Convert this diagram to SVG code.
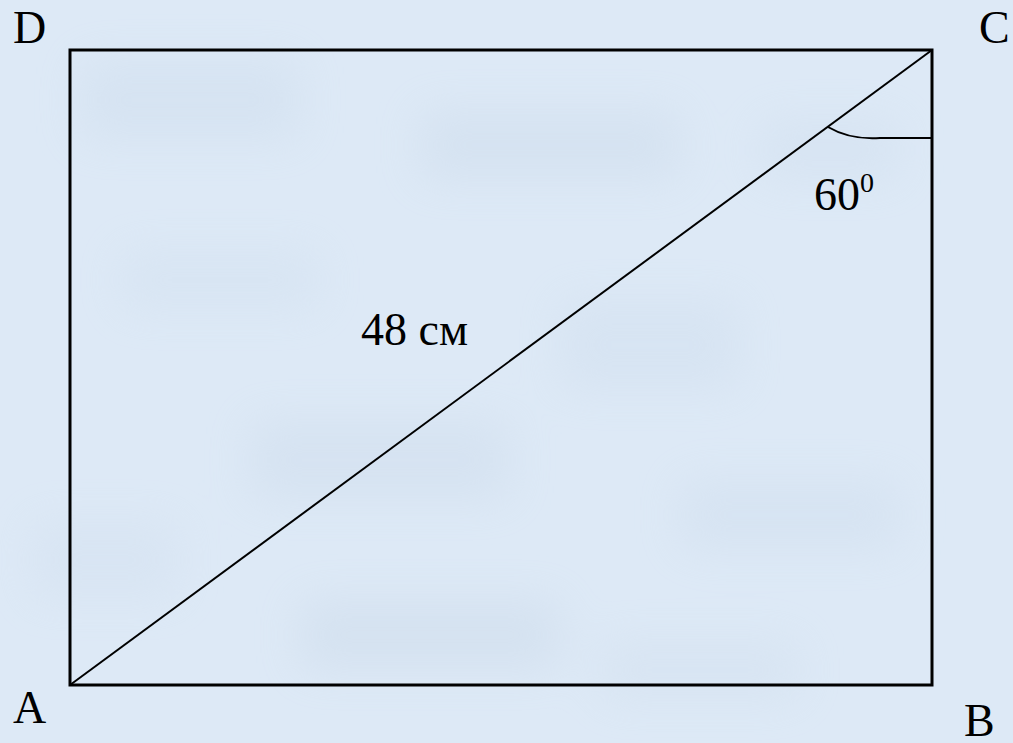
<svg xmlns="http://www.w3.org/2000/svg" width="1013" height="743" viewBox="0 0 1013 743">
<style>
.lbl{font-family:"Liberation Serif","Times New Roman","DejaVu Serif",serif;font-size:46px;fill:#000}
.edge{stroke:#000;fill:none}
</style>
<defs>
<filter id="blur" x="-20%" y="-20%" width="140%" height="140%"><feGaussianBlur stdDeviation="22"/></filter>
</defs>
<g id="background">
<rect width="1013" height="743" fill="#dde9f6"/>
<g filter="url(#blur)" opacity="0.35">
<rect x="80" y="60" width="220" height="80" fill="#c9d9ea"/>
<rect x="420" y="110" width="260" height="70" fill="#c7d7e8"/>
<rect x="120" y="250" width="200" height="60" fill="#cfdeee"/>
<rect x="560" y="300" width="180" height="90" fill="#ccdbec"/>
<rect x="250" y="420" width="260" height="80" fill="#c9d8e9"/>
<rect x="680" y="480" width="220" height="70" fill="#cbdaeb"/>
<rect x="300" y="600" width="260" height="70" fill="#c6d5e6"/>
<rect x="760" y="120" width="140" height="60" fill="#ccdbec"/>
<rect x="30" y="520" width="150" height="80" fill="#d0deee"/>
<rect x="600" y="640" width="200" height="60" fill="#cfddec"/>
</g>
</g>
<g id="connectors">
<rect class="edge" x="70" y="50" width="862" height="635" stroke-width="3"/>
<line class="edge" x1="70" y1="685" x2="932" y2="50" stroke-width="2"/>
<path class="edge" d="M828,127 Q850,140 880,138 L932,138" stroke-width="2"/>
</g>
<g id="node-D"><text class="lbl" x="13" y="43">D</text></g>
<g id="node-C"><text class="lbl" x="979" y="43">C</text></g>
<g id="node-A"><text class="lbl" x="13" y="723">A</text></g>
<g id="node-B"><text class="lbl" x="964" y="736">B</text></g>
<g id="label-length"><text class="lbl" x="361" y="345">48 см</text></g>
<g id="label-angle"><text class="lbl" x="814" y="210">60<tspan font-size="28" dy="-18">0</tspan></text></g>
</svg>
